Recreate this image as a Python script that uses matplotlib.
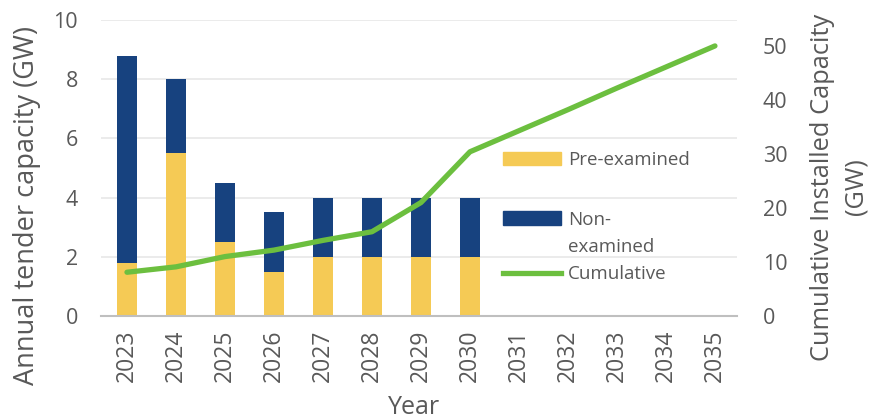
import matplotlib
matplotlib.use('Agg')
import matplotlib.pyplot as plt
from matplotlib.patches import Patch
from matplotlib.lines import Line2D
import numpy as np

# data
years = ['2023', '2024', '2025', '2026', '2027', '2028', '2029', '2030',
         '2031', '2032', '2033', '2034', '2035']
pre_examined = [1.8, 5.5, 2.5, 1.5, 2.0, 2.0, 2.0, 2.0]
non_examined = [7.0, 2.5, 2.0, 2.0, 2.0, 2.0, 2.0, 2.0]
cumulative = [8.1, 9.1, 11.0, 12.2, 14.0, 15.6, 21.0, 30.4, 34.3, 38.2, 42.2, 46.1, 50.0]

yellow = '#F5CA55'
navy = '#17427F'
green = '#6CBF3F'
grey = '#595959'

plt.rcParams['font.family'] = ['Open Sans', 'DejaVu Sans']

W, H = 871, 419
fig = plt.figure(figsize=(W / 100, H / 100), dpi=100)
ax = fig.add_axes([101 / W, 1 - 316 / H, 636 / W, 296 / H])
ax2 = ax.twinx()

x = np.arange(len(years))
xb = x[:len(pre_examined)]
ax.bar(xb, pre_examined, width=0.39, color=yellow, zorder=2)
ax.bar(xb, non_examined, width=0.39, bottom=pre_examined, color=navy, zorder=2)
ax2.plot(x, cumulative, color=green, lw=3.8, solid_capstyle='round', zorder=3)

ax.set_ylim(0, 10)
ax.set_yticks([0, 2, 4, 6, 8, 10])
ax2.set_ylim(0, 54.8)
ax2.set_yticks([0, 10, 20, 30, 40, 50])
ax.set_xlim(-0.53, 12.45)
ax.set_xticks(x)
ax.set_xticklabels(years, rotation=90)

ax.grid(axis='y', color='#E8E8E8', lw=1.2, zorder=0)
ax.set_axisbelow(True)
for a in (ax, ax2):
    for s in ('top', 'left', 'right', 'bottom'):
        a.spines[s].set_visible(False)
    a.tick_params(length=0, colors=grey, labelsize=15.5)
ax.spines['bottom'].set_visible(True)
ax.spines['bottom'].set_color('#BFBFBF')
ax.spines['bottom'].set_linewidth(1.5)
ax.tick_params(axis='y', pad=16.5)
ax2.tick_params(axis='y', pad=18.5)
ax.tick_params(axis='x', pad=10, labelsize=16.5)

# axis titles
fig.text(27 / W, 1 - 205 / H, 'Annual tender capacity (GW)', color=grey, fontsize=19.5,
         rotation=90, ha='center', va='center')
fig.text(839 / W, 1 - 187 / H, 'Cumulative Installed Capacity\n(GW)', color=grey,
         fontsize=18.3, rotation=90, ha='center', va='center', multialignment='center',
         linespacing=1.45)
fig.text(414 / W, 1 - 407 / H, 'Year', color=grey, fontsize=18, ha='center', va='center')

# legend, split like the Excel original
legkw = dict(frameon=False, fontsize=13.5, handlelength=3.1, handleheight=0.75,
             handletextpad=0.37, borderpad=0, borderaxespad=0, labelcolor=grey,
             loc='center left', bbox_transform=fig.transFigure)
leg1 = ax2.legend([Patch(color=yellow)], ['Pre-examined'],
                  bbox_to_anchor=(503 / W, 1 - 160 / H), **legkw)
ax2.add_artist(leg1)
ax2.legend([Patch(color=navy), Patch(color='none'), Line2D([0], [0], color=green, lw=3.8)],
           ['Non-', 'examined', 'Cumulative'], labelspacing=0.5,
           bbox_to_anchor=(503 / W, 1 - 247 / H), **legkw)

fig.savefig('out.png', dpi=100)
